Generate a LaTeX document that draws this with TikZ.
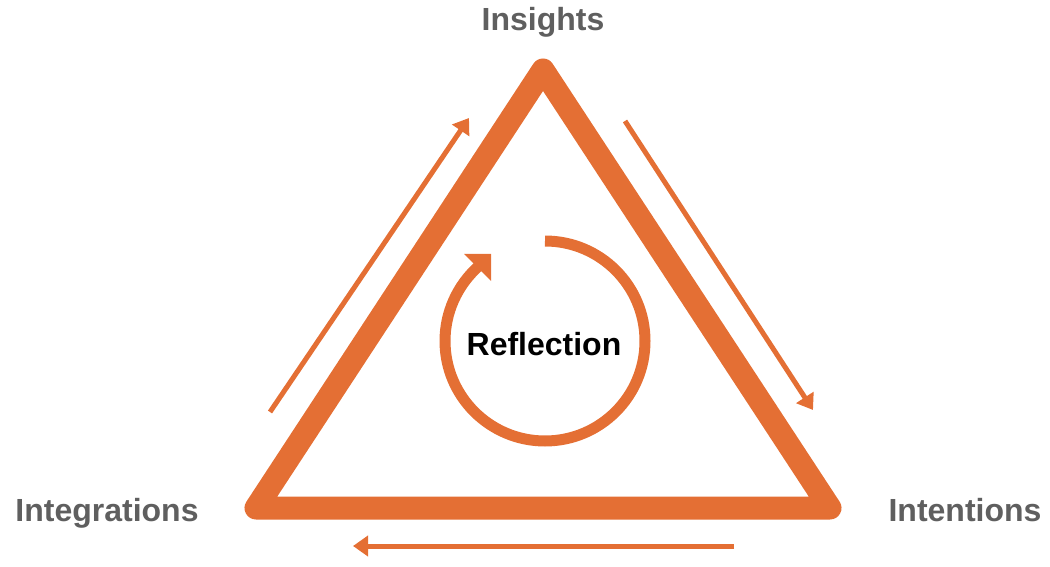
\documentclass[tikz,border=0pt]{standalone}
\usepackage{fontspec}
\setmainfont{Liberation Sans}
\usetikzlibrary{arrows.meta}
\definecolor{org}{HTML}{E46F34}
\definecolor{lbl}{HTML}{5F5F5F}
\begin{document}
\begin{tikzpicture}[x=1pt,y=1pt,
  lab/.style={font=\fontsize{32}{32}\selectfont\bfseries, text=lbl, anchor=base, inner sep=0pt},
  thinarrow/.style={draw=org, line width=5pt, -{Triangle[length=15pt,width=20pt]}}]
\useasboundingbox (0,0) rectangle (1050,566);
% triangle
\coordinate (A) at (543,496);
\coordinate (L) at (256,58);
\coordinate (R) at (830,58);
\draw[org, line width=23pt, line join=round] (A) -- (R) -- (L) -- cycle;
% side arrows
\coordinate (la1) at (270,154); \coordinate (la2) at (469,448);
\coordinate (ra1) at (625,445); \coordinate (ra2) at (813,156);
\coordinate (ba1) at (734,20);  \coordinate (ba2) at (353,20);
\draw[thinarrow] (la1) -- (la2);
\draw[thinarrow] (ra1) -- (ra2);
\draw[thinarrow] (ba1) -- (ba2);
% reflection cycle
\coordinate (C) at (545,225);
\draw[org, line width=11pt] (545,325) arc[start angle=90, end angle=-228, radius=100];
\fill[org] (464,312) -- (491,312) -- (491,285) -- cycle;
% labels
\node[lab] (ins) at (543,535) {Insights};
\node[lab] (int) at (107,45) {Integrations};
\node[lab] (inten) at (965,45) {Intentions};
\node[lab, text=black] (refl) at (544,211) {Reflection};
\end{tikzpicture}
\end{document}
